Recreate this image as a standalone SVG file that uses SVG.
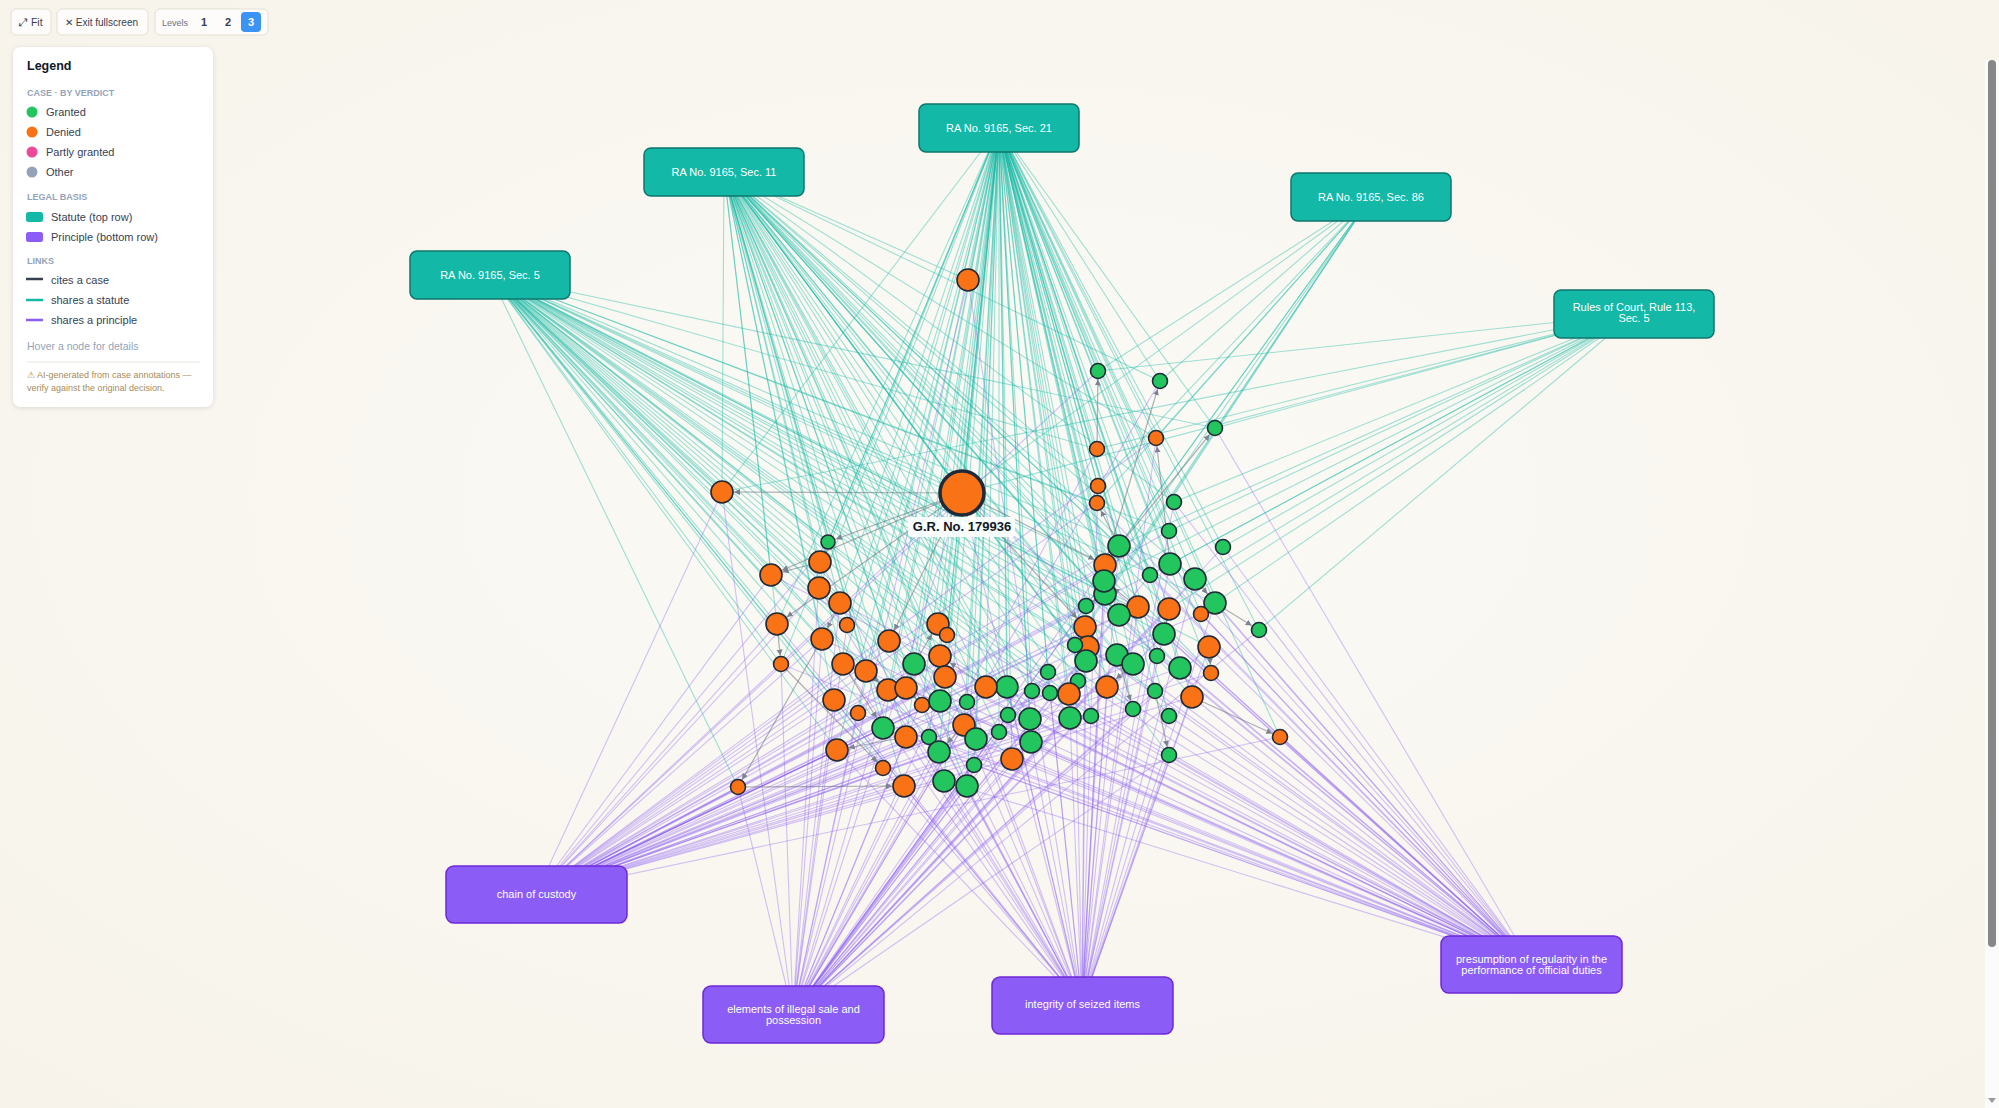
<svg xmlns="http://www.w3.org/2000/svg" width="1999" height="1108" viewBox="0 0 1999 1108">
<defs>
<radialGradient id="bgg" cx="50%" cy="45%" r="75%"><stop offset="0" stop-color="#fbfaf6"/><stop offset="1" stop-color="#f7f3ea"/></radialGradient>
<filter id="sh" x="-10%" y="-10%" width="120%" height="120%"><feDropShadow dx="0" dy="1" stdDeviation="2.5" flood-color="#000" flood-opacity="0.12"/></filter>
<marker id="a7" viewBox="0 0 6 6" refX="14.5" refY="3" markerWidth="6" markerHeight="6" markerUnits="userSpaceOnUse" orient="auto"><path d="M0 0L6 3L0 6z" fill="#7b8290"/></marker>
<marker id="a11" viewBox="0 0 6 6" refX="18" refY="3" markerWidth="6" markerHeight="6" markerUnits="userSpaceOnUse" orient="auto"><path d="M0 0L6 3L0 6z" fill="#7b8290"/></marker>
</defs>
<style>
text{font-family:"Liberation Sans",Arial,sans-serif}
.t path{fill:none;stroke:#14b8a6;stroke-opacity:.4;stroke-width:1.1}
.p path{fill:none;stroke:#8b5cf6;stroke-opacity:.36;stroke-width:1.1}
.c path{fill:none;stroke:#6b7280;stroke-opacity:.55;stroke-width:1.2}
.g{fill:#22c55e;stroke:#1f2937;stroke-width:1.6}
.o{fill:#f97316;stroke:#1f2937;stroke-width:1.6}
.st rect{fill:#14b8a6;stroke:#0f766e;stroke-width:1.5}
.pr rect{fill:#8b5cf6;stroke:#6d28d9;stroke-width:1.5}
.bl{font-size:11px;fill:#fff;text-anchor:middle}
.btn{fill:#fdfcfa;stroke:#e4dfd4;stroke-width:1}
.lg{font-size:11px;fill:#374151}
.hd{font-size:9px;font-weight:bold;fill:#94a3b8}
.wn{font-size:9px;fill:#a68b5b}
</style>
<rect width="1999" height="1108" fill="url(#bgg)"/>

<g id="connectors">
<g class="t" id="statute-links">
<path d="M490 275L962 493 724 172 962 493 999 128 962 493 1371 197 962 493 1634 314"/>
<path d="M999 128L968 280 724 172"/>
<path d="M490 275L722 492 724 172 722 492 999 128 722 492 1634 314"/>
<path d="M999 128L1098 371 1371 197 1098 371 1634 314"/>
<path d="M999 128L1160 381 1371 197 1160 381 724 172"/>
<path d="M999 128L1215 428 1634 314 1215 428 490 275"/>
<path d="M999 128L1156 438 1371 197 1156 438 724 172"/>
<path d="M999 128L1097 449 1634 314 1097 449 490 275"/>
<path d="M999 128L1098 486 724 172 1098 486 1371 197"/>
<path d="M999 128L1097 503 490 275 1097 503 1371 197"/>
<path d="M999 128L1174 502 1634 314 1174 502 724 172"/>
<path d="M999 128L1169 531 1634 314 1169 531 490 275"/>
<path d="M999 128L1223 547 1634 314"/>
<path d="M999 128L1119 546 724 172 1119 546 1371 197 1119 546 1634 314"/>
<path d="M490 275L1105 565 999 128 1105 565 1371 197"/>
<path d="M724 172L1104 581 999 128 1104 581 1634 314"/>
<path d="M490 275L1105 594 999 128 1105 594 1371 197"/>
<path d="M724 172L1150 575 999 128 1150 575 1634 314"/>
<path d="M490 275L1170 564 999 128 1170 564 1634 314"/>
<path d="M724 172L1195 579 999 128 1195 579 1634 314"/>
<path d="M490 275L1086 606 999 128 1086 606 1371 197"/>
<path d="M490 275L1138 607 724 172 1138 607 999 128"/>
<path d="M724 172L1169 609 999 128 1169 609 1634 314"/>
<path d="M490 275L1119 615 724 172 1119 615 999 128"/>
<path d="M490 275L1215 603 999 128 1215 603 1634 314"/>
<path d="M724 172L1201 614 999 128"/>
<path d="M999 128L1259 630 1634 314"/>
<path d="M490 275L1085 627 724 172 1085 627 1371 197"/>
<path d="M490 275L1164 634 999 128"/>
<path d="M724 172L1075 645 999 128 1075 645 1371 197"/>
<path d="M490 275L1088 647 999 128"/>
<path d="M490 275L1086 661 724 172 1086 661 999 128"/>
<path d="M724 172L1117 655 999 128"/>
<path d="M490 275L1133 664 999 128"/>
<path d="M724 172L1157 656 999 128"/>
<path d="M490 275L1180 668 724 172 1180 668 999 128"/>
<path d="M490 275L1209 647 999 128"/>
<path d="M724 172L1211 673 999 128"/>
<path d="M490 275L1048 672 999 128"/>
<path d="M724 172L1078 681 999 128"/>
<path d="M490 275L1007 687 724 172 1007 687 999 128"/>
<path d="M724 172L1032 691 999 128"/>
<path d="M490 275L1050 693 999 128"/>
<path d="M490 275L1069 694 724 172 1069 694 999 128"/>
<path d="M724 172L1107 687 999 128"/>
<path d="M490 275L1155 691 999 128"/>
<path d="M724 172L1192 697 999 128"/>
<path d="M490 275L1133 709 999 128"/>
<path d="M724 172L1169 716 999 128"/>
<path d="M490 275L1091 716 999 128"/>
<path d="M724 172L1070 718 999 128"/>
<path d="M490 275L1030 719 724 172 1030 719 999 128"/>
<path d="M724 172L1031 742 999 128"/>
<path d="M490 275L1012 759 999 128"/>
<path d="M999 128L1280 737"/>
<path d="M724 172L1169 755"/>
<path d="M490 275L828 542 724 172 828 542 999 128"/>
<path d="M490 275L820 562 724 172 820 562 999 128"/>
<path d="M490 275L771 575 724 172"/>
<path d="M490 275L819 588 999 128"/>
<path d="M724 172L840 603 999 128"/>
<path d="M490 275L777 624 724 172 777 624 999 128"/>
<path d="M490 275L847 625 999 128"/>
<path d="M724 172L938 624 999 128"/>
<path d="M490 275L947 635 999 128"/>
<path d="M490 275L822 639 724 172"/>
<path d="M724 172L889 641 999 128"/>
<path d="M490 275L781 664 999 128"/>
<path d="M490 275L843 664 724 172 843 664 999 128"/>
<path d="M724 172L866 671 999 128"/>
<path d="M490 275L914 664 999 128"/>
<path d="M490 275L940 656 724 172 940 656 999 128"/>
<path d="M724 172L945 677 999 128"/>
<path d="M490 275L888 690 999 128"/>
<path d="M724 172L906 688 999 128"/>
<path d="M490 275L834 700 724 172"/>
<path d="M999 128L858 713"/>
<path d="M490 275L922 705 999 128"/>
<path d="M724 172L940 701 999 128"/>
<path d="M490 275L967 702 999 128"/>
<path d="M724 172L986 687 999 128"/>
<path d="M999 128L1008 715"/>
<path d="M490 275L883 728 724 172 883 728 999 128"/>
<path d="M724 172L906 737 999 128"/>
<path d="M490 275L929 737 999 128"/>
<path d="M724 172L964 725 999 128"/>
<path d="M490 275L976 739 999 128"/>
<path d="M724 172L999 732 999 128"/>
<path d="M490 275L837 750 999 128"/>
<path d="M724 172L939 752 999 128"/>
<path d="M490 275L883 768"/>
<path d="M999 128L974 765"/>
<path d="M490 275L904 786 724 172"/>
<path d="M999 128L944 781"/>
<path d="M724 172L967 786 999 128"/>
<path d="M490 275L738 787"/>
</g>
<g class="p" id="principle-links">
<path d="M536 894L962 493 793 1014 962 493 1082 1005 962 493 1531 964"/>
<path d="M793 1014L968 280 1082 1005"/>
<path d="M536 894L722 492 793 1014"/>
<path d="M536 894L1098 371"/>
<path d="M793 1014L1160 381"/>
<path d="M1531 964L1215 428"/>
<path d="M536 894L1156 438 1082 1005"/>
<path d="M793 1014L1097 449"/>
<path d="M1082 1005L1098 486"/>
<path d="M536 894L1097 503 1531 964"/>
<path d="M1082 1005L1174 502 1531 964"/>
<path d="M536 894L1169 531"/>
<path d="M793 1014L1223 547 1531 964"/>
<path d="M536 894L1119 546 1082 1005 1119 546 1531 964"/>
<path d="M536 894L1105 565 793 1014 1105 565 1082 1005"/>
<path d="M793 1014L1104 581 1082 1005 1104 581 1531 964"/>
<path d="M536 894L1105 594 1082 1005"/>
<path d="M793 1014L1150 575 1531 964"/>
<path d="M536 894L1170 564 1082 1005 1170 564 1531 964"/>
<path d="M793 1014L1195 579 1082 1005 1195 579 1531 964"/>
<path d="M536 894L1086 606 793 1014"/>
<path d="M536 894L1138 607 1082 1005 1138 607 1531 964"/>
<path d="M793 1014L1169 609 1082 1005"/>
<path d="M536 894L1119 615 793 1014 1119 615 1531 964"/>
<path d="M1082 1005L1215 603 1531 964"/>
<path d="M536 894L1201 614 1531 964"/>
<path d="M793 1014L1259 630 1531 964"/>
<path d="M536 894L1085 627 1082 1005"/>
<path d="M536 894L1164 634 793 1014 1164 634 1531 964"/>
<path d="M793 1014L1075 645 1082 1005"/>
<path d="M536 894L1088 647 1531 964"/>
<path d="M793 1014L1086 661 1082 1005"/>
<path d="M536 894L1117 655 1082 1005 1117 655 1531 964"/>
<path d="M536 894L1133 664 793 1014"/>
<path d="M1082 1005L1157 656 1531 964"/>
<path d="M536 894L1180 668 1531 964"/>
<path d="M793 1014L1209 647 1082 1005 1209 647 1531 964"/>
<path d="M536 894L1211 673 1531 964"/>
<path d="M793 1014L1048 672 1082 1005"/>
<path d="M536 894L1078 681 1531 964"/>
<path d="M536 894L1007 687 1082 1005"/>
<path d="M793 1014L1032 691 1531 964"/>
<path d="M536 894L1050 693 1082 1005"/>
<path d="M793 1014L1069 694 1531 964"/>
<path d="M536 894L1107 687 1082 1005 1107 687 1531 964"/>
<path d="M793 1014L1155 691 1531 964"/>
<path d="M536 894L1192 697 1082 1005 1192 697 1531 964"/>
<path d="M536 894L1133 709 793 1014"/>
<path d="M1082 1005L1169 716 1531 964"/>
<path d="M536 894L1091 716 1531 964"/>
<path d="M793 1014L1070 718 1082 1005"/>
<path d="M536 894L1030 719 1531 964"/>
<path d="M793 1014L1031 742 1082 1005"/>
<path d="M536 894L1012 759 1531 964"/>
<path d="M536 894L1280 737 1531 964"/>
<path d="M793 1014L1169 755 1082 1005 1169 755 1531 964"/>
<path d="M536 894L828 542"/>
<path d="M793 1014L820 562 1082 1005"/>
<path d="M536 894L771 575 1531 964"/>
<path d="M536 894L819 588 1082 1005"/>
<path d="M793 1014L840 603 1531 964"/>
<path d="M536 894L777 624 1082 1005"/>
<path d="M793 1014L847 625"/>
<path d="M536 894L938 624 1531 964"/>
<path d="M1082 1005L947 635"/>
<path d="M536 894L822 639 793 1014 822 639 1531 964"/>
<path d="M536 894L889 641 1082 1005"/>
<path d="M793 1014L781 664 1531 964"/>
<path d="M536 894L843 664 1082 1005"/>
<path d="M793 1014L866 671 1531 964"/>
<path d="M536 894L914 664 1082 1005 914 664 1531 964"/>
<path d="M793 1014L940 656"/>
<path d="M536 894L945 677 1531 964"/>
<path d="M793 1014L888 690 1082 1005"/>
<path d="M536 894L906 688 1531 964"/>
<path d="M536 894L834 700 793 1014 834 700 1082 1005"/>
<path d="M793 1014L858 713 1531 964"/>
<path d="M536 894L922 705 1082 1005"/>
<path d="M536 894L940 701 793 1014 940 701 1531 964"/>
<path d="M1082 1005L967 702"/>
<path d="M536 894L986 687 793 1014 986 687 1531 964"/>
<path d="M793 1014L1008 715 1082 1005"/>
<path d="M536 894L883 728 1531 964"/>
<path d="M793 1014L906 737 1082 1005"/>
<path d="M536 894L929 737 1531 964"/>
<path d="M793 1014L964 725 1082 1005"/>
<path d="M536 894L976 739 1531 964"/>
<path d="M793 1014L999 732 1531 964"/>
<path d="M536 894L837 750 1082 1005"/>
<path d="M793 1014L939 752 1531 964"/>
<path d="M536 894L883 768 1082 1005"/>
<path d="M793 1014L974 765 1531 964"/>
<path d="M536 894L904 786 793 1014 904 786 1082 1005"/>
<path d="M536 894L944 781 1531 964"/>
<path d="M793 1014L967 786 1082 1005"/>
<path d="M536 894L738 787 793 1014"/>
</g>
<g class="c" id="cite-links">
<path d="M962 493L722 492" marker-end="url(#a11)"/>
<path d="M962 493L771 575" marker-end="url(#a11)"/>
<path d="M962 493L828 542" marker-end="url(#a7)"/>
<path d="M962 493L777 624" marker-end="url(#a11)"/>
<path d="M962 493L889 641" marker-end="url(#a11)"/>
<path d="M962 493L1085 627" marker-end="url(#a11)"/>
<path d="M962 493L1105 565" marker-end="url(#a11)"/>
<path d="M777 624L781 664" marker-end="url(#a7)"/>
<path d="M822 639L738 787" marker-end="url(#a7)"/>
<path d="M738 787L904 786" marker-end="url(#a11)"/>
<path d="M781 664L883 768" marker-end="url(#a7)"/>
<path d="M1119 546L1215 428" marker-end="url(#a7)"/>
<path d="M1097 449L1098 371" marker-end="url(#a7)"/>
<path d="M1105 565L1160 381" marker-end="url(#a7)"/>
<path d="M1170 564L1156 438" marker-end="url(#a7)"/>
<path d="M1215 603L1259 630" marker-end="url(#a7)"/>
<path d="M1192 697L1280 737" marker-end="url(#a7)"/>
<path d="M1155 691L1169 755" marker-end="url(#a7)"/>
<path d="M820 562L771 575" marker-end="url(#a11)"/>
<path d="M840 603L822 639" marker-end="url(#a11)"/>
<path d="M866 671L888 690" marker-end="url(#a11)"/>
<path d="M914 664L938 624" marker-end="url(#a11)"/>
<path d="M986 687L940 656" marker-end="url(#a11)"/>
<path d="M906 737L837 750" marker-end="url(#a11)"/>
<path d="M1138 607L1104 581" marker-end="url(#a11)"/>
<path d="M1169 609L1164 634" marker-end="url(#a11)"/>
<path d="M1133 664L1107 687" marker-end="url(#a11)"/>
<path d="M1117 655L1133 709" marker-end="url(#a7)"/>
<path d="M1195 579L1215 603" marker-end="url(#a11)"/>
<path d="M1119 546L1097 503" marker-end="url(#a7)"/>
<path d="M843 664L883 728" marker-end="url(#a11)"/>
<path d="M1209 647L1211 673" marker-end="url(#a7)"/>
<path d="M1105 594L1086 606" marker-end="url(#a7)"/>
<path d="M906 688L922 705" marker-end="url(#a7)"/>
<path d="M964 725L939 752" marker-end="url(#a11)"/>
</g>
</g>

<g id="statutes" class="st">
<g id="s-sec5"><rect x="410" y="251" width="160" height="48" rx="7"/><text class="bl" x="490" y="279">RA No. 9165, Sec. 5</text></g>
<g id="s-sec11"><rect x="644" y="148" width="160" height="48" rx="7"/><text class="bl" x="724" y="176">RA No. 9165, Sec. 11</text></g>
<g id="s-sec21"><rect x="919" y="104" width="160" height="48" rx="7"/><text class="bl" x="999" y="132">RA No. 9165, Sec. 21</text></g>
<g id="s-sec86"><rect x="1291" y="173" width="160" height="48" rx="7"/><text class="bl" x="1371" y="201">RA No. 9165, Sec. 86</text></g>
<g id="s-rule113"><rect x="1554" y="290" width="160" height="48" rx="7"/><text class="bl" x="1634" y="311">Rules of Court, Rule 113,</text><text class="bl" x="1634" y="321.5">Sec. 5</text></g>
</g>
<g id="principles" class="pr">
<g id="p-chain"><rect x="446" y="866" width="181" height="57" rx="8"/><text class="bl" x="536.5" y="898">chain of custody</text></g>
<g id="p-elements"><rect x="703" y="986" width="181" height="57" rx="8"/><text class="bl" x="793.5" y="1013">elements of illegal sale and</text><text class="bl" x="793.5" y="1023.5">possession</text></g>
<g id="p-integrity"><rect x="992" y="977" width="181" height="57" rx="8"/><text class="bl" x="1082.5" y="1008">integrity of seized items</text></g>
<g id="p-presumption"><rect x="1441" y="936" width="181" height="57" rx="8"/><text class="bl" x="1531.5" y="963">presumption of regularity in the</text><text class="bl" x="1531.5" y="973.5">performance of official duties</text></g>
</g>

<g id="cases">
<g id="n1"><circle class="o" cx="968" cy="280" r="11"/></g>
<g id="n2"><circle class="o" cx="722" cy="492" r="11"/></g>
<g id="n3"><circle class="g" cx="1098" cy="371" r="7.5"/></g>
<g id="n4"><circle class="g" cx="1160" cy="381" r="7.5"/></g>
<g id="n5"><circle class="g" cx="1215" cy="428" r="7.5"/></g>
<g id="n6"><circle class="o" cx="1156" cy="438" r="7.5"/></g>
<g id="n7"><circle class="o" cx="1097" cy="449" r="7.5"/></g>
<g id="n8"><circle class="o" cx="1098" cy="486" r="7.5"/></g>
<g id="n9"><circle class="o" cx="1097" cy="503" r="7.5"/></g>
<g id="n10"><circle class="g" cx="1174" cy="502" r="7.5"/></g>
<g id="n11"><circle class="g" cx="1169" cy="531" r="7.5"/></g>
<g id="n12"><circle class="g" cx="1223" cy="547" r="7.5"/></g>
<g id="n13"><circle class="g" cx="1119" cy="546" r="11"/></g>
<g id="n14"><circle class="o" cx="1105" cy="565" r="11"/></g>
<g id="n16"><circle class="g" cx="1105" cy="594" r="11"/></g>
<g id="n15"><circle class="g" cx="1104" cy="581" r="11"/></g>
<g id="n17"><circle class="g" cx="1150" cy="575" r="7.5"/></g>
<g id="n18"><circle class="g" cx="1170" cy="564" r="11"/></g>
<g id="n19"><circle class="g" cx="1195" cy="579" r="11"/></g>
<g id="n20"><circle class="g" cx="1086" cy="606" r="7.5"/></g>
<g id="n21"><circle class="o" cx="1138" cy="607" r="11"/></g>
<g id="n22"><circle class="o" cx="1169" cy="609" r="11"/></g>
<g id="n23"><circle class="g" cx="1119" cy="615" r="11"/></g>
<g id="n24"><circle class="g" cx="1215" cy="603" r="11"/></g>
<g id="n25"><circle class="o" cx="1201" cy="614" r="7.5"/></g>
<g id="n26"><circle class="g" cx="1259" cy="630" r="7.5"/></g>
<g id="n27"><circle class="o" cx="1085" cy="627" r="11"/></g>
<g id="n28"><circle class="g" cx="1164" cy="634" r="11"/></g>
<g id="n30"><circle class="o" cx="1088" cy="647" r="11"/></g>
<g id="n29"><circle class="g" cx="1075" cy="645" r="7.5"/></g>
<g id="n31"><circle class="g" cx="1086" cy="661" r="11"/></g>
<g id="n32"><circle class="g" cx="1117" cy="655" r="11"/></g>
<g id="n33"><circle class="g" cx="1133" cy="664" r="11"/></g>
<g id="n34"><circle class="g" cx="1157" cy="656" r="7.5"/></g>
<g id="n35"><circle class="g" cx="1180" cy="668" r="11"/></g>
<g id="n36"><circle class="o" cx="1209" cy="647" r="11"/></g>
<g id="n37"><circle class="o" cx="1211" cy="673" r="7.5"/></g>
<g id="n38"><circle class="g" cx="1048" cy="672" r="7.5"/></g>
<g id="n39"><circle class="g" cx="1078" cy="681" r="7.5"/></g>
<g id="n40"><circle class="g" cx="1007" cy="687" r="11"/></g>
<g id="n41"><circle class="g" cx="1032" cy="691" r="7.5"/></g>
<g id="n42"><circle class="g" cx="1050" cy="693" r="7.5"/></g>
<g id="n43"><circle class="o" cx="1069" cy="694" r="11"/></g>
<g id="n44"><circle class="o" cx="1107" cy="687" r="11"/></g>
<g id="n45"><circle class="g" cx="1155" cy="691" r="7.5"/></g>
<g id="n46"><circle class="o" cx="1192" cy="697" r="11"/></g>
<g id="n47"><circle class="g" cx="1133" cy="709" r="7.5"/></g>
<g id="n48"><circle class="g" cx="1169" cy="716" r="7.5"/></g>
<g id="n49"><circle class="g" cx="1091" cy="716" r="7.5"/></g>
<g id="n50"><circle class="g" cx="1070" cy="718" r="11"/></g>
<g id="n51"><circle class="g" cx="1030" cy="719" r="11"/></g>
<g id="n52"><circle class="g" cx="1031" cy="742" r="11"/></g>
<g id="n53"><circle class="o" cx="1012" cy="759" r="11"/></g>
<g id="n54"><circle class="o" cx="1280" cy="737" r="7.5"/></g>
<g id="n55"><circle class="g" cx="1169" cy="755" r="7.5"/></g>
<g id="n56"><circle class="g" cx="828" cy="542" r="7"/></g>
<g id="n57"><circle class="o" cx="820" cy="562" r="11"/></g>
<g id="n58"><circle class="o" cx="771" cy="575" r="11"/></g>
<g id="n59"><circle class="o" cx="819" cy="588" r="11"/></g>
<g id="n60"><circle class="o" cx="840" cy="603" r="11"/></g>
<g id="n61"><circle class="o" cx="777" cy="624" r="11"/></g>
<g id="n62"><circle class="o" cx="847" cy="625" r="7.5"/></g>
<g id="n63"><circle class="o" cx="938" cy="624" r="11"/></g>
<g id="n64"><circle class="o" cx="947" cy="635" r="7.5"/></g>
<g id="n65"><circle class="o" cx="822" cy="639" r="11"/></g>
<g id="n66"><circle class="o" cx="889" cy="641" r="11"/></g>
<g id="n67"><circle class="o" cx="781" cy="664" r="7.5"/></g>
<g id="n68"><circle class="o" cx="843" cy="664" r="11"/></g>
<g id="n69"><circle class="o" cx="866" cy="671" r="11"/></g>
<g id="n70"><circle class="g" cx="914" cy="664" r="11"/></g>
<g id="n71"><circle class="o" cx="940" cy="656" r="11"/></g>
<g id="n72"><circle class="o" cx="945" cy="677" r="11"/></g>
<g id="n73"><circle class="o" cx="888" cy="690" r="11"/></g>
<g id="n74"><circle class="o" cx="906" cy="688" r="11"/></g>
<g id="n75"><circle class="o" cx="834" cy="700" r="11"/></g>
<g id="n76"><circle class="o" cx="858" cy="713" r="7.5"/></g>
<g id="n77"><circle class="o" cx="922" cy="705" r="7.5"/></g>
<g id="n78"><circle class="g" cx="940" cy="701" r="11"/></g>
<g id="n79"><circle class="g" cx="967" cy="702" r="7.5"/></g>
<g id="n80"><circle class="o" cx="986" cy="687" r="11"/></g>
<g id="n81"><circle class="g" cx="1008" cy="715" r="7.5"/></g>
<g id="n82"><circle class="g" cx="883" cy="728" r="11"/></g>
<g id="n83"><circle class="o" cx="906" cy="737" r="11"/></g>
<g id="n84"><circle class="g" cx="929" cy="737" r="7.5"/></g>
<g id="n85"><circle class="o" cx="964" cy="725" r="11"/></g>
<g id="n86"><circle class="g" cx="976" cy="739" r="11"/></g>
<g id="n87"><circle class="g" cx="999" cy="732" r="7.5"/></g>
<g id="n88"><circle class="o" cx="837" cy="750" r="11"/></g>
<g id="n89"><circle class="g" cx="939" cy="752" r="11"/></g>
<g id="n90"><circle class="o" cx="883" cy="768" r="7.5"/></g>
<g id="n91"><circle class="g" cx="974" cy="765" r="7.5"/></g>
<g id="n92"><circle class="o" cx="904" cy="786" r="11"/></g>
<g id="n93"><circle class="g" cx="944" cy="781" r="11"/></g>
<g id="n94"><circle class="g" cx="967" cy="786" r="11"/></g>
<g id="n95"><circle class="o" cx="738" cy="787" r="7.5"/></g>
<g id="n0"><circle cx="962" cy="493" r="22" fill="#f97316" stroke="#1f2937" stroke-width="3.5"/><rect x="908" y="517" width="107" height="20" rx="3" fill="#fff" fill-opacity="0.88"/><text x="962" y="531" font-size="13" font-weight="bold" fill="#111827" text-anchor="middle">G.R. No. 179936</text></g>
</g>

<g id="toolbar">
<rect class="btn" x="11" y="9" width="40" height="26" rx="5"/>
<text x="19" y="26" font-size="10.5" fill="#374151">⤢ Fit</text>
<rect class="btn" x="57" y="9" width="91" height="26" rx="5"/>
<text x="65" y="26" font-size="10" fill="#374151">✕ Exit fullscreen</text>
<rect class="btn" x="155" y="9" width="113" height="26" rx="5"/>
<text x="162" y="26" font-size="9" fill="#6b7280">Levels</text>
<text x="204" y="26" font-size="11" font-weight="bold" fill="#374151" text-anchor="middle">1</text>
<text x="228" y="26" font-size="11" font-weight="bold" fill="#374151" text-anchor="middle">2</text>
<rect x="241" y="12" width="20" height="20" rx="4" fill="#3b93f6"/>
<text x="251" y="26" font-size="11" font-weight="bold" fill="#fff" text-anchor="middle">3</text>
</g>

<g id="legend">
<rect x="13" y="47" width="200" height="360" rx="8" fill="#fff" filter="url(#sh)"/>
<text x="27" y="70" font-size="12.5" font-weight="bold" fill="#111827">Legend</text>
<text class="hd" x="27" y="96">CASE · BY VERDICT</text>
<circle cx="32" cy="112" r="5.5" fill="#22c55e"/><text class="lg" x="46" y="116">Granted</text>
<circle cx="32" cy="132" r="5.5" fill="#f97316"/><text class="lg" x="46" y="136">Denied</text>
<circle cx="32" cy="152" r="5.5" fill="#ec4899"/><text class="lg" x="46" y="156">Partly granted</text>
<circle cx="32" cy="172" r="5.5" fill="#94a3b8"/><text class="lg" x="46" y="176">Other</text>
<text class="hd" x="27" y="200">LEGAL BASIS</text>
<rect x="26" y="212" width="17" height="10" rx="2.5" fill="#14b8a6"/><text class="lg" x="51" y="221">Statute (top row)</text>
<rect x="26" y="232" width="17" height="10" rx="2.5" fill="#8b5cf6"/><text class="lg" x="51" y="241">Principle (bottom row)</text>
<text class="hd" x="27" y="264">LINKS</text>
<line x1="26" y1="279" x2="43" y2="279" stroke="#374151" stroke-width="2.5"/><text class="lg" x="51" y="284">cites a case</text>
<line x1="26" y1="300" x2="43" y2="300" stroke="#14b8a6" stroke-width="2.5"/><text class="lg" x="51" y="304">shares a statute</text>
<line x1="26" y1="320" x2="43" y2="320" stroke="#8b5cf6" stroke-width="2.5"/><text class="lg" x="51" y="324">shares a principle</text>
<text x="27" y="350" font-size="10.5" fill="#94a3b8">Hover a node for details</text>
<line x1="27" y1="362" x2="200" y2="362" stroke="#ebe7df" stroke-width="1"/>
<text class="wn" x="27" y="378">⚠ AI-generated from case annotations —</text>
<text class="wn" x="27" y="391">verify against the original decision.</text>
</g>

<g id="scrollbar">
<rect x="1985" y="60" width="14" height="1048" fill="#fbfbfb"/>
<rect x="1988" y="60" width="8" height="887" rx="4" fill="#878787"/>
<path d="M1988 1098L1996 1098L1992 1103z" fill="#9a9a9a"/>
</g>
</svg>
